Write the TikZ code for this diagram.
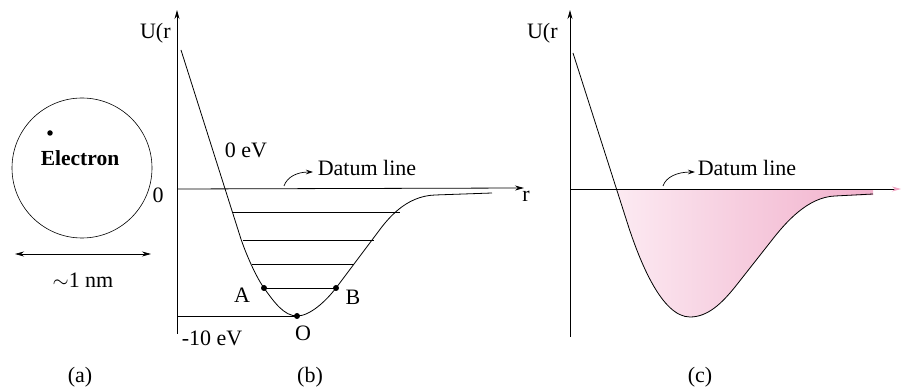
\documentclass[tikz,border=0pt]{standalone}
\usepackage{fontspec}
\setmainfont{Liberation Serif}
\usetikzlibrary{arrows.meta}
\definecolor{pinkL}{RGB}{252,234,242}
\definecolor{pinkM}{RGB}{246,204,222}
\definecolor{pinkR}{RGB}{242,178,205}
\definecolor{pinkTip}{RGB}{241,165,195}
\begin{document}
\begin{tikzpicture}[x=1pt,y=-1pt,line width=0.8pt,
  lbl/.style={font=\fontsize{22}{25}\selectfont,inner sep=0pt},
  lblb/.style={font=\fontsize{21.5}{25}\selectfont\bfseries,inner sep=0pt},
  tip/.style={-{Stealth[length=9pt,width=5pt]}},
  dtip/.style={{Stealth[length=9pt,width=5pt]}-{Stealth[length=9pt,width=5pt]}},
  smalltip/.style={-{Stealth[length=7pt,width=4.5pt]}},
  dotm/.style={fill,circle,inner sep=0pt,minimum size=6pt}]
\useasboundingbox (0,0) rectangle (919,387);

% ---------- (a) ----------
\node[draw,circle,line width=0.6pt,minimum size=140pt,inner sep=0pt] (atom) at (82,168) {};
\node[dotm,minimum size=5.5pt] (el) at (50,133) {};
\node[lblb] (eltxt) at (80,158) {Electron};
\node[lbl] (zero) at (158,195) {0};
\coordinate (la) at (15,254);
\coordinate (ra) at (151,254);
\draw[dtip,line width=0.7pt] (la) -- (ra);
\node[lbl] (nm) at (83,280) {$\sim$1 nm};
\node[lbl] (capa) at (80,377) {(a)};

% ---------- (b) ----------
\coordinate (bo) at (177,189);
\coordinate (btop) at (177,10);
\coordinate (bbot) at (177,334);
\coordinate (bend) at (524,188);
\draw (bbot) -- (bo);
\draw[tip] (bo) -- (btop);
\draw[tip] (bo) -- (bend);
\node[lbl,anchor=east] (bU) at (171,33) {U(r};
\node[lbl] (br) at (526,196) {r};

\coordinate (A) at (264,288);
\coordinate (O) at (297,316);
\coordinate (B) at (336,288);
\draw (181,50) -- (240,236) .. controls (245,252) and (256,277) .. (A)
  .. controls (274,302) and (284,316) .. (O)
  .. controls (310,316) and (326,301) .. (B)
  -- (378,232) .. controls (387,220) and (405,196) .. (435,195)
  -- (492,193);
\draw (233,212) -- (400,212);
\draw (243,240) -- (374,240);
\draw (252,264) -- (354,264);
\draw (A) -- (B);
\coordinate (m10) at (177,316);
\draw (m10) -- (O);
\node[dotm] (dA) at (A) {};
\node[dotm] (dB) at (B) {};
\node[dotm] (dO) at (O) {};
\node[lbl] (tA) at (242,295) {A};
\node[lbl] (tB) at (353,297) {B};
\node[lbl] (tO) at (303,333) {O};
\node[lbl] (tm10) at (212,338) {-10 eV};
\node[lbl] (t0ev) at (246,150) {0 eV};
\node[lbl] (datb) at (367,168) {Datum line};
\coordinate (dbs) at (284,186);
\coordinate (dbe) at (313,172);
\draw[smalltip,line width=0.7pt] (dbs) .. controls (287,177) and (297,172) .. (dbe);
\node[lbl] (capb) at (310,377) {(b)};

% ---------- (c) ----------
\shade[left color=pinkL,right color=pinkR,middle color=pinkM]
  (617,189.5) -- (873,189.5) -- (873,195) -- (835,196)
  .. controls (808,197) and (786,222) .. (772,240) -- (735,287)
  .. controls (722,303) and (708,317) .. (690,317)
  .. controls (662,317) and (640,262) .. (628,225) -- cycle;
\coordinate (co) at (570,189);
\coordinate (ctop) at (570,10);
\coordinate (cbot) at (570,337);
\coordinate (cend) at (901,189);
\draw (cbot) -- (co);
\draw[tip] (co) -- (ctop);
\draw[-{Stealth[length=9pt,width=5pt,color=pinkTip]}] (co) -- (cend);
\node[lbl,anchor=east] (cU) at (558,33) {U(r};
\draw (573,53) -- (628,225) .. controls (640,262) and (662,317) .. (690,317)
  .. controls (708,317) and (722,303) .. (735,287) -- (772,240)
  .. controls (786,222) and (808,197) .. (835,196) -- (873,194);
\node[lbl] (datc) at (747,168) {Datum line};
\coordinate (dcs) at (663,186);
\coordinate (dce) at (695,172);
\draw[smalltip,line width=0.7pt] (dcs) .. controls (666,177) and (677,172) .. (dce);
\node[lbl] (capc) at (700,377) {(c)};
\end{tikzpicture}
\end{document}
